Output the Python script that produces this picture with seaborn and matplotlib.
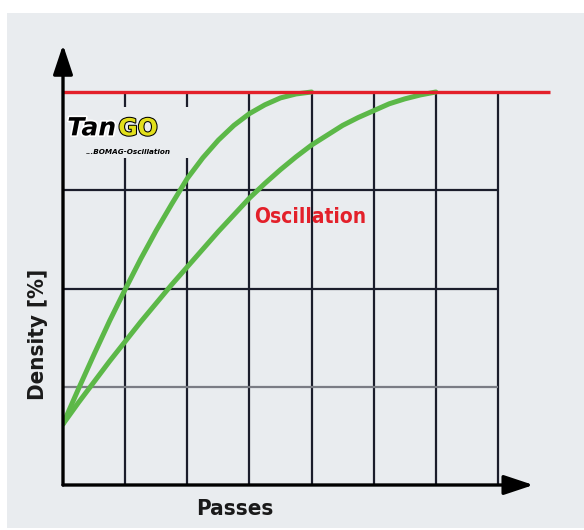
import matplotlib
matplotlib.use('Agg')
import matplotlib.pyplot as plt
import matplotlib.patheffects as pe
from matplotlib.patches import Rectangle
import seaborn as sns
import pandas as pd

# DATOS
passes_osc_fast = [0, 0.25, 0.5, 0.75, 1, 1.25, 1.5, 1.75, 2, 2.25, 2.5,
                   2.75, 3, 3.25, 3.5, 3.75, 4]
density_osc_fast = [0.62, 0.98, 1.33, 1.67, 1.99, 2.30, 2.59, 2.86, 3.12, 3.33,
                    3.51, 3.66, 3.78, 3.87, 3.94, 3.98, 4.0]

passes_osc_slow = [0, 0.25, 0.5, 0.75, 1, 1.25, 1.5, 1.75, 2, 2.25, 2.5, 2.75,
                   3, 3.25, 3.5, 3.75, 4, 4.25, 4.5, 4.75, 5, 5.25, 5.5, 5.75, 6]
density_osc_slow = [0.62, 0.84, 1.05, 1.26, 1.46, 1.66, 1.85, 2.04, 2.22, 2.40,
                    2.58, 2.75, 2.92, 3.07, 3.21, 3.34, 3.46, 3.56, 3.66, 3.74,
                    3.81, 3.88, 3.93, 3.97, 4.0]

grid_x = [1, 2, 3, 4, 5, 6, 7]
grid_y = [1, 2, 3]
grid_y_colors = ["#7a7c84", "#1b1d2b", "#1b1d2b"]
max_density = 4.0

# CONFIGURACION
sns.set_theme(style="white")
plt.rcParams['font.family'] = ['DejaVu Sans']

PANEL = "#e9ecef"
GREEN = "#5cb848"
RED = "#e3202a"
DARK = "#1b1d2b"
COND = dict(fontstretch="condensed", fontweight="bold")

fig = plt.figure(figsize=(5.84, 5.30), dpi=100)
fig.patch.set_facecolor("white")

# panel gris de fondo (ejes propios detras)
bg = fig.add_axes([7 / 584, 2 / 530, 577 / 584, 515 / 530], zorder=0)
bg.set_facecolor(PANEL)
bg.set_xticks([])
bg.set_yticks([])
for s in bg.spines.values():
    s.set_visible(False)

ax = fig.add_axes([63 / 584, 1 - 485 / 530, 7.9 * 62.14 / 584, 4.55 * 98.25 / 530], zorder=1)
ax.set_facecolor("none")
for s in ax.spines.values():
    s.set_visible(False)
ax.set_xticks([])
ax.set_yticks([])

# rejilla
ax.vlines(grid_x, 0, max_density, color=DARK, lw=1.6, zorder=1)
ax.hlines(grid_y, 0, grid_x[-1], color=grid_y_colors, lw=1.6, zorder=1)

# logo (con fondo que tapa la rejilla)
ax.add_patch(Rectangle((0.04, 3.33), 2.06, 0.52, facecolor=PANEL,
                       edgecolor="none", zorder=2))
ax.text(0.07, 3.63, "Tan", fontsize=18, fontweight="heavy", style="italic",
        color="black", va="center", ha="left", zorder=3,
        path_effects=[pe.withStroke(linewidth=2.5, foreground="white")])
ax.text(0.89, 3.63, "GO", fontsize=17, fontweight="bold",
        color="#e2df1c", va="center", ha="left", zorder=3,
        path_effects=[pe.withStroke(linewidth=1.5, foreground="black")])
ax.text(0.36, 3.39, "...BOMAG-Oscillation", fontsize=5.2, fontweight="bold",
        style="italic", color="black", va="center", ha="left", zorder=3)

# curvas
df_fast = pd.DataFrame({"passes": passes_osc_fast, "density": density_osc_fast})
df_slow = pd.DataFrame({"passes": passes_osc_slow, "density": density_osc_slow})
sns.lineplot(data=df_fast, x="passes", y="density", ax=ax, color=GREEN,
             lw=3.6, zorder=4)
sns.lineplot(data=df_slow, x="passes", y="density", ax=ax, color=GREEN,
             lw=3.6, zorder=4)
ax.set_xlim(0, 7.9)
ax.set_ylim(0, 4.55)
ax.set_xlabel("")
ax.set_ylabel("")

# linea roja de densidad maxima
ax.hlines(max_density, 0, 7.84, color=RED, lw=2.4, zorder=5, clip_on=False)

# ejes con flechas
arrow = dict(arrowstyle="-|>,head_length=1.5,head_width=0.5",
             color="black", lw=2.4, shrinkA=0, shrinkB=0)
ax.annotate("", xy=(0, 4.48), xytext=(0, 0), zorder=6, arrowprops=arrow)
ax.annotate("", xy=(7.57, 0), xytext=(0, 0), zorder=6, arrowprops=arrow)

# textos
ax.text(3.97, 2.73, "Oscillation", color=RED, fontsize=15,
        ha="center", va="center", zorder=6, **COND)
fig.text(235 / 584, 1 - 509 / 530, "Passes", color="#1a1a1a", fontsize=16,
         ha="center", va="center", **COND)
fig.text(38 / 584, 1 - 334 / 530, "Density [%]", color="#1a1a1a", fontsize=16,
         ha="center", va="center", rotation=90, **COND)

fig.savefig("out.png", dpi=100)
